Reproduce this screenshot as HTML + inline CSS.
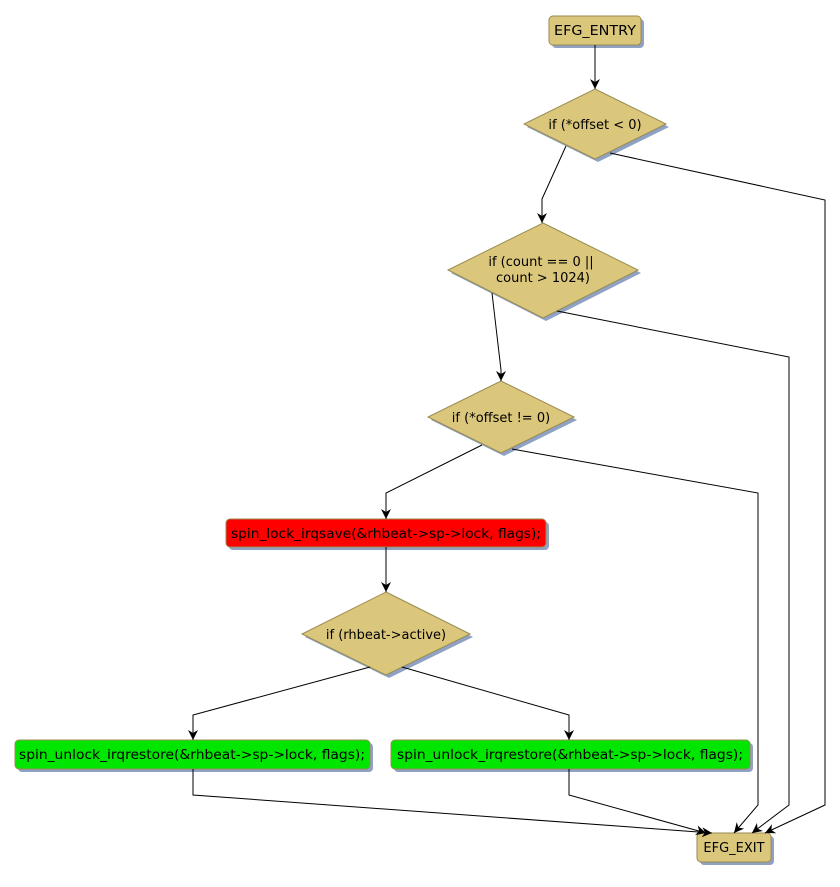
<!DOCTYPE html>
<html><head><meta charset="utf-8"><style>html,body{margin:0;padding:0;background:#fff}</style></head>
<body>
<svg width="840" height="882" viewBox="0 0 840 882" xmlns="http://www.w3.org/2000/svg" font-family="DejaVu Sans, sans-serif" font-size="13">
<defs><marker id="a" markerWidth="12" markerHeight="12" refX="10" refY="5" orient="auto" markerUnits="userSpaceOnUse"><path d="M0,0 L10,5 L0,10 L3,5 z" fill="#000"/></marker></defs>
<g fill="#8fa2c4">
<rect x="552" y="19" width="92" height="29" rx="4"/>
<polygon points="598,92 669,127 598,162 527,127"/>
<polygon points="546,226 641,273 546,321 451,273"/>
<polygon points="504,384 577,420 504,456 431,420"/>
<rect x="229" y="522" width="320" height="28" rx="4"/>
<polygon points="389,595 473,637 389,678 305,637"/>
<rect x="18" y="743" width="355" height="29" rx="4"/>
<rect x="394" y="743" width="359" height="29" rx="4"/>
<rect x="700" y="836" width="74" height="29" rx="4"/>
</g>
<g stroke="#9a8a50" stroke-width="1">
<rect x="549" y="16" width="92" height="29" rx="4" fill="#dbc77c"/>
<polygon points="595,89 666,124 595,159 524,124" fill="#dbc77c"/>
<polygon points="543,223 638,270 543,318 448,270" fill="#dbc77c"/>
<polygon points="501,381 574,417 501,453 428,417" fill="#dbc77c"/>
<rect x="226" y="519" width="320" height="28" rx="4" fill="#ff0000"/>
<polygon points="386,592 470,634 386,675 302,634" fill="#dbc77c"/>
<rect x="15" y="740" width="355" height="29" rx="4" fill="#00e600"/>
<rect x="391" y="740" width="359" height="29" rx="4" fill="#00e600"/>
<rect x="697" y="833" width="74" height="29" rx="4" fill="#dbc77c"/>
</g>
<g fill="none" stroke="#000" stroke-width="1" marker-end="url(#a)">
<polyline points="595,45 595,89"/>
<polyline points="566,146 542,199 542,223"/>
<polyline points="610,153 825,200 825,805 765,833"/>
<polyline points="492,293 501,370 501,381"/>
<polyline points="557,311 789,357 789,805 752,833"/>
<polyline points="482,445 386,493 386,519"/>
<polyline points="512,449 758,493 758,805 734,833"/>
<polyline points="386,547 386,592"/>
<polyline points="370,667 193,715 193,740"/>
<polyline points="402,667 569,715 569,740"/>
<polyline points="193,769 193,795 712,833"/>
<polyline points="569,769 569,795 706,833"/>
</g>
<g fill="#000" text-anchor="middle">
<text x="595" y="35" textLength="82" lengthAdjust="spacingAndGlyphs">EFG_ENTRY</text>
<text x="595" y="129">if (*offset &lt; 0)</text>
<text x="541" y="266">if (count == 0 ||</text>
<text x="543" y="282">count &gt; 1024)</text>
<text x="501" y="422">if (*offset != 0)</text>
<text x="386" y="538" textLength="310" lengthAdjust="spacingAndGlyphs">spin_lock_irqsave(&amp;rhbeat-&gt;sp-&gt;lock, flags);</text>
<text x="386" y="639">if (rhbeat-&gt;active)</text>
<text x="192" y="759" textLength="346" lengthAdjust="spacingAndGlyphs">spin_unlock_irqrestore(&amp;rhbeat-&gt;sp-&gt;lock, flags);</text>
<text x="570" y="759" textLength="346" lengthAdjust="spacingAndGlyphs">spin_unlock_irqrestore(&amp;rhbeat-&gt;sp-&gt;lock, flags);</text>
<text x="734" y="852">EFG_EXIT</text>
</g>
</svg>
</body></html>
